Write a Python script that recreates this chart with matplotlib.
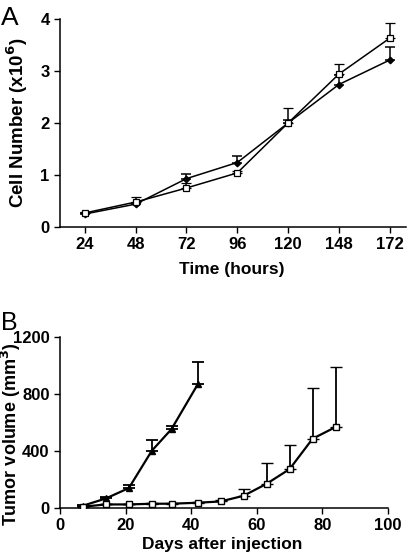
import numpy as np
import matplotlib.pyplot as plt

plt.rcParams['font.family'] = ['Liberation Sans', 'DejaVu Sans']
plt.rcParams['font.weight'] = 'bold'
plt.rcParams['axes.labelweight'] = 'bold'
plt.rcParams['mathtext.default'] = 'bf'

# Panel A: in vitro cell growth
hours = ['24', '48', '72', '96', '120', '148', '172']
cells_filled = [0.25, 0.44, 0.93, 1.24, 2.00, 2.74, 3.21]
cells_filled_err = [0.02, 0.03, 0.08, 0.13, 0.05, 0.18, 0.26]
cells_open = [0.27, 0.48, 0.75, 1.04, 2.00, 2.94, 3.63]
cells_open_err = [0.02, 0.09, 0.10, 0.03, 0.29, 0.19, 0.29]

# Panel B: tumour growth in mice
days_filled = [7, 14, 21, 28, 34, 42]
tumor_filled = [14, 65, 138, 400, 552, 866]
tumor_filled_err = [5, 12, 21, 75, 21, 154]
days_open = [7, 14, 21, 28, 34, 42, 49, 56, 63, 70, 77, 84]
tumor_open = [7, 23, 23, 28, 28, 35, 44, 84, 168, 271, 484, 566]
tumor_open_err = [3, 4, 4, 5, 5, 6, 8, 49, 143, 171, 358, 423]

fig = plt.figure(figsize=(4.1, 5.55), dpi=100)

def style(ax):
    for s in ['top', 'right']:
        ax.spines[s].set_visible(False)
    for s in ['left', 'bottom']:
        ax.spines[s].set_linewidth(1.1)
    ax.tick_params(direction='out', length=4.5, width=1.0, labelsize=12, pad=3)
    for lab in ax.get_xticklabels() + ax.get_yticklabels():
        lab.set_fontweight('bold')

# ---- A ----
axA = fig.add_axes([0.1463, 0.591, 0.845, 0.3748])
x = np.arange(len(hours))
zeros = np.zeros(len(hours))
axA.errorbar(x, cells_filled, yerr=[zeros, cells_filled_err], color='black',
             marker='D', markersize=3.3, linewidth=1.1, capsize=3.5, elinewidth=1.1,
             capthick=1.1, zorder=2)
axA.errorbar(x, cells_open, yerr=[zeros, cells_open_err], color='black',
             marker='s', markersize=4, markerfacecolor='white', markeredgewidth=0.9,
             linewidth=1.1, capsize=3.5, elinewidth=1.1, capthick=1.1, zorder=3)
axA.set_xticks(x)
axA.set_xticklabels(hours)
axA.set_xlim(-0.49, 6.33)
axA.set_ylim(0, 4)
axA.set_yticks([0, 1, 2, 3, 4])
axA.set_xlabel('Time (hours)', fontsize=12.5)
axA.set_ylabel('Cell Number (x10$^6$)', fontsize=13.5)
axA.xaxis.set_label_coords(0.496, -0.202)
axA.xaxis.label.set_va('center')
axA.yaxis.set_label_coords(-0.123, 0.5)
axA.yaxis.label.set_va('center')
style(axA)
fig.text(0.003, 0.955, 'A', fontsize=19, fontweight='normal', va='baseline')

# ---- B ----
axB = fig.add_axes([0.1463, 0.0852, 0.8, 0.308])
axB.errorbar(days_filled, tumor_filled,
             yerr=[np.zeros(len(days_filled)), tumor_filled_err], color='black',
             marker='^', markersize=4.5, linewidth=1.6, capsize=4.3, elinewidth=1.3,
             capthick=1.3, zorder=2)
axB.errorbar(days_open, tumor_open,
             yerr=[np.zeros(len(days_open)), tumor_open_err], color='black',
             marker='s', markersize=4.5, markerfacecolor='white', markeredgewidth=1,
             linewidth=1.6, capsize=4.3, elinewidth=1.3, capthick=1.3, zorder=3)
axB.set_xlim(0, 100)
axB.set_ylim(0, 1200)
axB.set_xticks([0, 20, 40, 60, 80, 100])
axB.set_yticks([0, 400, 800, 1200])
axB.set_xlabel('Days after injection', fontsize=12.5)
axB.set_ylabel('Tumor volume (mm$^3$)', fontsize=13)
axB.xaxis.set_label_coords(0.494, -0.218)
axB.xaxis.label.set_va('center')
axB.yaxis.set_label_coords(-0.148, 0.431)
axB.yaxis.label.set_va('center')
style(axB)
fig.text(0.003, 0.4054, 'B', fontsize=18, fontweight='normal', va='baseline')

fig.savefig('out.png', dpi=100)
